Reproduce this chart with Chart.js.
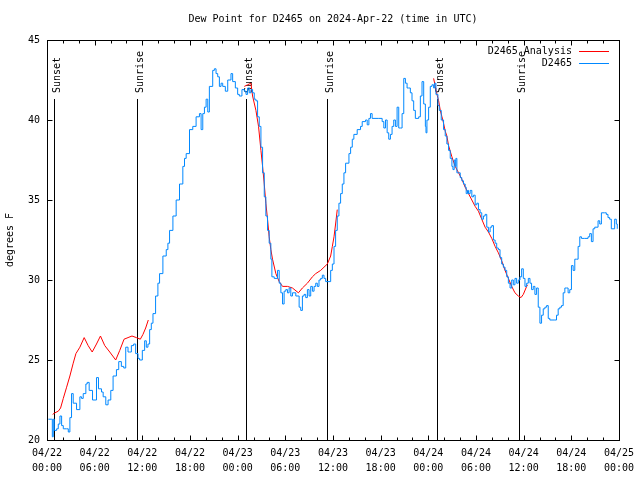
<!DOCTYPE html>
<html>
<head>
<meta charset="utf-8">
<script src="https://cdn.jsdelivr.net/npm/chart.js@4/dist/chart.umd.min.js"></script>
<style>
	html, body { margin: 0; padding: 0; background: #fff; }
	#wrap { width: 640px; height: 480px; }
</style>
</head>
<body>
<div id="wrap"><canvas id="dewChart" width="640" height="480"></canvas></div>
<script>
// Hours since 04/22 00:00 UTC
var dewHours = [0.17, 0.58, 0.67, 0.79, 0.92, 1.21, 1.42, 1.63, 1.84, 2.05, 2.47, 2.68, 2.88, 3.09, 3.30, 3.72, 4.14, 4.35, 4.56, 4.89,
	5.06, 5.31, 5.73, 6.23, 6.48, 6.86, 7.07, 7.40, 7.69, 8.03, 8.32, 8.74, 9.03, 9.36, 9.66, 9.91, 10.20, 10.41, 10.62, 10.91,
	11.16, 11.46, 11.66, 12.00, 12.29, 12.50, 12.71, 12.92, 13.13, 13.34, 13.67, 13.96, 14.17, 14.59, 15.01, 15.22, 15.43, 15.85, 16.26, 16.68,
	17.10, 17.31, 17.52, 17.94, 18.35, 18.77, 19.19, 19.40, 19.61, 19.82, 20.03, 20.24, 20.44, 20.86, 21.07, 21.28, 21.49, 21.70, 21.91, 22.12,
	22.45, 22.75, 23.16, 23.37, 23.71, 24.00, 24.21, 24.54, 24.84, 25.05, 25.25, 25.46, 25.67, 25.88, 26.09, 26.30, 26.51, 26.72, 26.93, 27.14,
	27.35, 27.55, 27.76, 27.97, 28.18, 28.31, 28.60, 29.02, 29.23, 29.44, 29.65, 29.85, 30.06, 30.27, 30.48, 30.69, 30.90, 31.32, 31.74, 31.94,
	32.15, 32.36, 32.57, 32.78, 32.99, 33.20, 33.41, 33.62, 33.83, 34.03, 34.24, 34.45, 34.66, 34.87, 35.08, 35.50, 35.71, 35.92, 36.13, 36.33,
	36.54, 36.75, 36.96, 37.17, 37.38, 37.59, 38.01, 38.22, 38.43, 38.63, 39.05, 39.47, 39.68, 40.10, 40.31, 40.52, 40.72, 40.93, 41.77, 42.19,
	42.40, 42.61, 42.82, 43.02, 43.23, 43.44, 43.65, 43.86, 44.07, 44.28, 44.49, 44.70, 44.91, 45.12, 45.33, 45.53, 45.74, 45.95, 46.16, 46.37,
	46.58, 46.79, 47.00, 47.21, 47.42, 47.63, 47.71, 47.83, 48.04, 48.25, 48.46, 48.67, 48.80, 48.96, 49.21, 49.38, 49.63, 49.92, 50.13, 50.34,
	50.55, 50.76, 50.97, 51.10, 51.26, 51.39, 51.47, 51.60, 51.81, 52.02, 52.22, 52.43, 52.64, 52.77, 52.94, 53.06, 53.27, 53.48, 53.69, 53.90,
	54.11, 54.31, 54.52, 54.73, 54.94, 55.15, 55.36, 55.57, 55.78, 55.99, 56.20, 56.41, 56.61, 56.82, 57.03, 57.24, 57.45, 57.66, 57.87, 58.08,
	58.29, 58.50, 58.70, 58.91, 59.12, 59.33, 59.54, 59.75, 59.96, 60.17, 60.38, 60.59, 60.80, 61.00, 61.21, 61.42, 61.63, 61.84, 62.05, 62.26,
	62.47, 62.68, 62.89, 63.10, 63.30, 63.93, 64.14, 64.35, 64.56, 64.77, 64.98, 65.19, 65.39, 65.60, 65.81, 66.02, 66.23, 66.44, 66.65, 66.86,
	67.07, 67.28, 67.69, 68.11, 68.32, 68.53, 68.74, 68.95, 69.37, 69.58, 69.79, 70.20, 70.41, 70.62, 70.83, 71.04, 71.25, 71.46, 71.67, 71.79];

// D2465 dew point, degrees F
var dewValues = [21.3, 21.3, 20.2, 21.3, 20.6, 20.7, 21.0, 21.5, 20.9, 20.7, 20.7, 20.5, 21.4, 22.9, 22.3, 21.9, 22.7, 22.6, 22.9, 23.5,
	23.6, 23.1, 22.5, 23.9, 23.2, 23.0, 22.7, 22.2, 22.5, 23.1, 24.0, 24.4, 24.9, 24.6, 24.5, 25.8, 25.5, 25.5, 25.9, 26.0,
	25.4, 25.1, 25.0, 25.6, 26.2, 25.8, 26.0, 26.9, 27.3, 27.9, 29.0, 29.8, 30.4, 31.5, 31.9, 32.3, 33.1, 34.0, 35.0, 36.0,
	37.1, 37.6, 37.9, 39.4, 39.6, 40.2, 40.4, 39.4, 40.4, 40.8, 41.3, 40.5, 42.1, 43.1, 43.2, 42.9, 42.7, 42.1, 42.3, 42.1,
	41.8, 42.5, 42.9, 42.4, 42.0, 41.6, 41.5, 41.9, 41.8, 41.6, 42.0, 41.7, 41.9, 41.7, 41.3, 41.2, 40.2, 39.6, 38.3, 36.7,
	35.2, 34.0, 33.1, 32.3, 31.3, 30.2, 30.1, 30.6, 29.8, 29.2, 28.5, 29.3, 29.4, 29.2, 29.5, 29.0, 29.2, 29.0, 28.3, 28.1,
	29.0, 29.1, 28.9, 29.4, 29.0, 29.6, 29.3, 29.6, 29.8, 29.6, 30.0, 30.1, 30.3, 30.1, 29.9, 29.9, 30.6, 31.0, 32.1, 33.1,
	34.0, 34.8, 35.4, 36.0, 36.7, 37.3, 37.9, 38.3, 38.8, 39.1, 39.4, 39.6, 39.9, 40.0, 39.7, 40.1, 40.4, 40.1, 40.1, 39.9,
	39.5, 40.0, 39.2, 38.8, 39.1, 39.6, 40.0, 39.6, 40.8, 39.5, 39.5, 40.4, 42.6, 42.3, 42.0, 42.0, 41.7, 41.2, 40.6, 40.1,
	40.1, 40.2, 41.5, 42.4, 41.0, 39.6, 39.2, 40.0, 40.8, 42.1, 42.2, 42.0, 42.3, 41.6, 40.9, 40.6, 40.0, 39.4, 39.0, 38.5,
	38.1, 37.6, 37.1, 36.9, 37.5, 37.1, 37.6, 36.7, 36.7, 36.4, 36.2, 36.0, 35.8, 35.4, 35.6, 35.4, 35.6, 35.2, 35.3, 34.7,
	34.8, 34.4, 34.2, 33.8, 34.0, 34.1, 33.3, 33.0, 33.3, 33.4, 32.5, 32.3, 32.0, 31.9, 31.4, 31.0, 30.8, 30.6, 30.2, 29.8,
	29.5, 30.0, 29.7, 30.1, 29.8, 30.0, 30.2, 30.7, 30.1, 29.6, 29.8, 30.1, 29.8, 29.4, 29.6, 29.1, 29.5, 28.3, 27.3, 27.8,
	28.2, 28.3, 28.4, 27.6, 27.5, 27.5, 27.8, 28.2, 28.3, 28.4, 29.2, 29.5, 29.5, 29.2, 29.4, 30.9, 30.6, 31.3, 31.3, 32.1,
	32.7, 32.6, 32.6, 32.7, 32.9, 32.4, 33.2, 33.3, 33.7, 33.5, 34.2, 34.2, 34.1, 33.9, 33.8, 33.2, 33.2, 33.8, 33.5, 33.2];

// D2465 Analysis, only during the nights (null = gap)
var anaHours = [0.71, 1.00, 1.42, 1.71, 2.05, 2.47, 2.88, 3.30, 3.64, 4.14, 4.68, 5.18, 5.69, 6.23, 6.73, 7.27, 7.90, 8.65, 9.16, 9.70,
	10.20, 10.70, 11.25, 11.75, 12.08, 12.42, 12.75, 18.00,
	24.84, 25.25, 25.67, 25.88, 26.30, 26.63, 26.93, 27.14, 27.35, 27.55, 27.76, 27.97, 28.18, 28.39, 28.81, 29.23, 29.65, 30.27, 30.90, 31.65,
	32.15, 32.78, 33.41, 33.83, 34.45, 34.87, 35.29, 35.71, 35.92, 36.13, 36.33, 36.54, 42.00,
	48.67, 48.88, 49.09, 49.30, 49.51, 49.72, 49.92, 50.13, 50.34, 50.55, 50.97, 51.39, 51.81, 52.22, 52.64, 53.06, 53.48, 53.90, 54.31, 54.73,
	55.15, 55.57, 55.99, 56.41, 56.82, 57.24, 57.66, 58.08, 58.50, 58.91, 59.33, 59.67, 59.96, 60.38, 60.50];
var anaValues = [21.6, 21.7, 21.8, 22.0, 22.6, 23.3, 24.0, 24.8, 25.4, 25.8, 26.4, 25.9, 25.5, 26.0, 26.5, 25.9, 25.5, 25.0, 25.6, 26.3,
	26.4, 26.5, 26.4, 26.3, 26.6, 27.0, 27.5, null,
	42.1, 42.2, 42.3, 41.5, 40.6, 39.6, 38.1, 37.1, 36.0, 34.8, 33.8, 32.7, 31.9, 31.3, 30.4, 29.9, 29.6, 29.6, 29.5, 29.2,
	29.5, 29.8, 30.2, 30.4, 30.6, 30.8, 31.0, 31.5, 32.1, 32.7, 33.5, 34.4, null,
	42.6, 42.1, 41.6, 41.2, 40.6, 40.2, 39.8, 39.3, 39.0, 38.4, 37.7, 37.1, 36.7, 36.3, 35.8, 35.4, 35.0, 34.6, 34.3, 33.8,
	33.3, 33.0, 32.6, 32.1, 31.7, 31.2, 30.6, 30.1, 29.6, 29.2, 29.0, 28.9, 29.1, 29.6, 29.7];

// Sunset / sunrise markers
var sunHours = [0.92, 11.33, 25.0, 35.29, 49.08, 59.37];
var sunLabels = ['Sunset', 'Sunrise', 'Sunset', 'Sunrise', 'Sunset', 'Sunrise'];

var xTickLabels = [
	['04/22', '00:00'], ['04/22', '06:00'], ['04/22', '12:00'], ['04/22', '18:00'],
	['04/23', '00:00'], ['04/23', '06:00'], ['04/23', '12:00'], ['04/23', '18:00'],
	['04/24', '00:00'], ['04/24', '06:00'], ['04/24', '12:00'], ['04/24', '18:00'],
	['04/25', '00:00']
];
var seriesNames = ['D2465 Analysis', 'D2465'];
var chartTitle = 'Dew Point for D2465 on 2024-Apr-22 (time in UTC)';

var MONO = "'DejaVu Sans Mono', 'Liberation Mono', monospace";
var BLUE = 'rgb(0, 136, 255)';
var RED = 'rgb(255, 0, 0)';
var SUN_TOP = 41.3; // where the marker lines start (degrees F)

Chart.defaults.font.family = MONO;
Chart.defaults.font.size = 10;
Chart.defaults.color = '#000';

function toPoints(xs, ys) {
	return xs.map(function (x, i) { return { x: x, y: ys[i] }; });
}

/**
 * gnuplot-ish title, frame, inward ticks, sun markers and the key
 */
var gnuplotDecor = {
	id: 'gnuplotDecor',
	beforeDatasetsDraw: function (chart) {
		var ctx = chart.ctx, xs = chart.scales.x, ys = chart.scales.y, area = chart.chartArea;
		ctx.save();
		ctx.strokeStyle = '#000';
		ctx.lineWidth = 1;
		ctx.fillStyle = '#000';
		ctx.font = '10px ' + MONO;

		// title, centred over the plot area
		ctx.textAlign = 'center';
		ctx.textBaseline = 'middle';
		ctx.fillText(chartTitle, (area.left + area.right) / 2, 19);

		var top = Math.round(ys.getPixelForValue(SUN_TOP));
		sunHours.forEach(function (h, i) {
			var px = Math.round(xs.getPixelForValue(h)) + 0.5;
			ctx.beginPath();
			ctx.moveTo(px, top);
			ctx.lineTo(px, area.bottom);
			ctx.stroke();
			ctx.save();
			ctx.translate(px + 5, top - 6);
			ctx.rotate(-Math.PI / 2);
			ctx.textAlign = 'left';
			ctx.textBaseline = 'alphabetic';
			ctx.fillText(sunLabels[i], 0, 0);
			ctx.restore();
		});
		ctx.restore();
	},
	afterDraw: function (chart) {
		var ctx = chart.ctx, xs = chart.scales.x, ys = chart.scales.y, area = chart.chartArea;
		var L = Math.round(area.left) + 0.5, R = Math.round(area.right) + 0.5;
		var T = Math.round(area.top) + 0.5, B = Math.round(area.bottom) + 0.5;
		ctx.save();
		ctx.strokeStyle = '#000';
		ctx.lineWidth = 1;
		ctx.strokeRect(L, T, R - L, B - T);
		ctx.beginPath();
		// x ticks: major every 6 h, minor every 2 h
		for (var h = 0; h <= 72; h += 2) {
			var px = Math.round(xs.getPixelForValue(h)) + 0.5;
			var len = (h % 6 === 0) ? 5 : 3;
			ctx.moveTo(px, B); ctx.lineTo(px, B - len);
			ctx.moveTo(px, T); ctx.lineTo(px, T + len);
		}
		// y ticks
		for (var v = 20; v <= 45; v += 5) {
			var py = Math.round(ys.getPixelForValue(v)) + 0.5;
			ctx.moveTo(L, py); ctx.lineTo(L + 5, py);
			ctx.moveTo(R, py); ctx.lineTo(R - 5, py);
		}
		ctx.stroke();

		// key, top right inside the plot
		var colors = [RED, BLUE];
		ctx.font = '10px ' + MONO;
		ctx.textAlign = 'right';
		ctx.textBaseline = 'middle';
		seriesNames.forEach(function (name, i) {
			var y = Math.round(area.top + 11 + i * 12);
			ctx.fillStyle = '#000';
			ctx.fillText(name, area.right - 47, y);
			ctx.fillStyle = colors[i];
			ctx.fillRect(Math.round(area.right - 40), y, 30, 1);
		});
		ctx.restore();
	}
};

var dewChart = new Chart(document.getElementById('dewChart'), {
	type: 'line',
	data: {
		datasets: [
			{
				label: seriesNames[1],
				data: toPoints(dewHours, dewValues),
				borderColor: BLUE,
				borderWidth: 1,
				pointRadius: 0,
				stepped: true,
				fill: false
			},
			{
				label: seriesNames[0],
				data: toPoints(anaHours, anaValues),
				borderColor: RED,
				borderWidth: 1,
				pointRadius: 0,
				tension: 0,
				spanGaps: false,
				fill: false
			}
		]
	},
	options: {
		responsive: false,
		animation: false,
		events: [],
		layout: { padding: { left: 0, right: 19, top: 40, bottom: 0 } },
		plugins: {
			legend: { display: false },
			tooltip: { enabled: false },
			title: { display: false }
		},
		scales: {
			x: {
				type: 'linear',
				min: 0,
				max: 72,
				grid: { display: false, drawTicks: false },
				border: { display: false },
				ticks: {
					stepSize: 6,
					autoSkip: false,
					maxRotation: 0,
					padding: 6,
					font: { size: 10, family: MONO, lineHeight: 1.5 },
					callback: function (value, index) { return xTickLabels[index]; }
				},
				afterFit: function (scale) { scale.height = 40; }
			},
			y: {
				min: 20,
				max: 45,
				grid: { display: false, drawTicks: false },
				border: { display: false },
				ticks: { stepSize: 5, padding: 7, font: { size: 10, family: MONO } },
				title: {
					display: true,
					text: 'degrees F',
					font: { size: 10, family: MONO },
					padding: { top: 4, bottom: 0 }
				},
				afterFit: function (scale) { scale.width = 47; }
			}
		}
	},
	plugins: [gnuplotDecor]
});
</script>
</body>
</html>
